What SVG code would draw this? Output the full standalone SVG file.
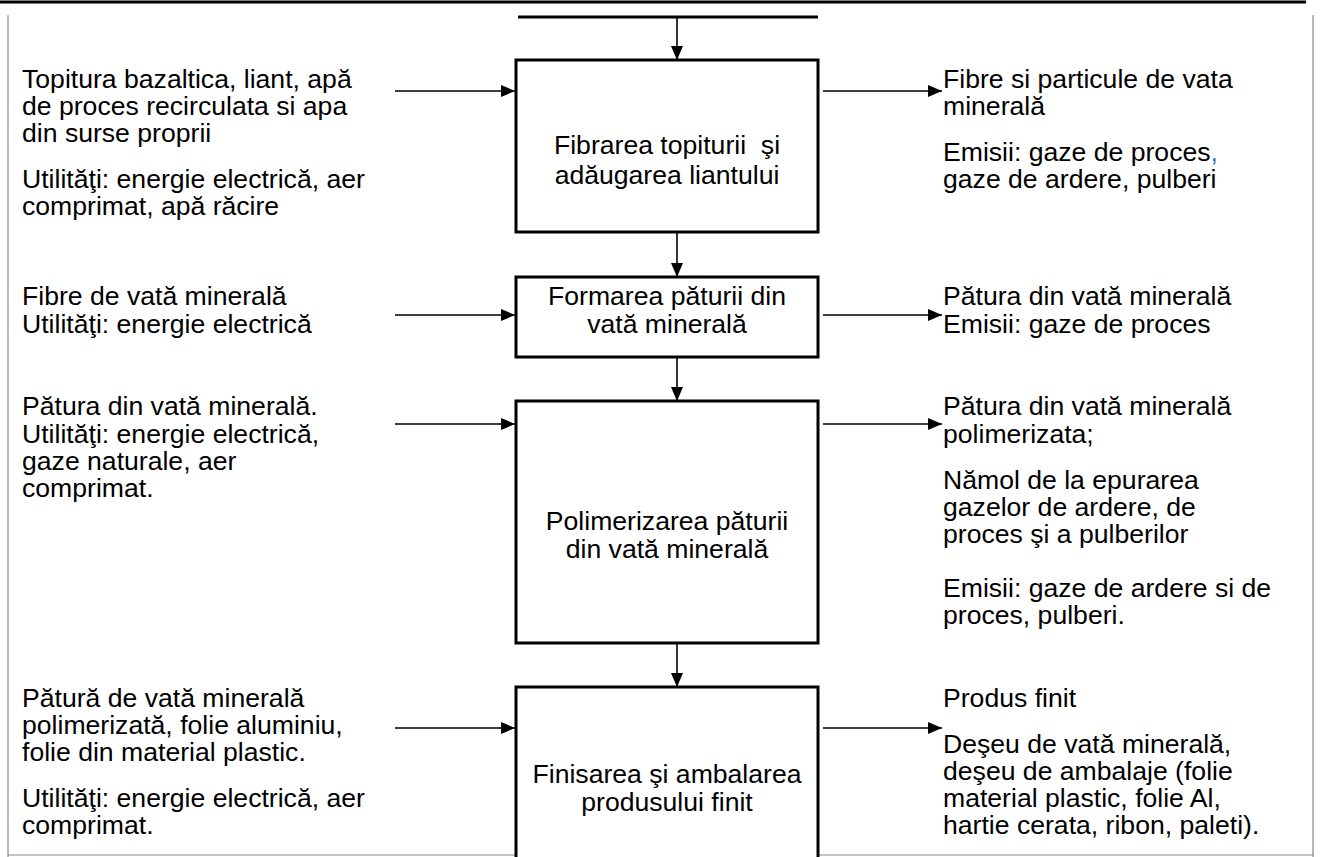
<svg xmlns="http://www.w3.org/2000/svg" width="1320" height="857" viewBox="0 0 1320 857">
<defs>
<marker id="ah" markerWidth="14" markerHeight="12" refX="14" refY="6" orient="auto" markerUnits="userSpaceOnUse">
<path d="M0,0 L14,6 L0,12 Z" fill="#000"/>
</marker>
<style>
text{font-family:"Liberation Sans",Arial,sans-serif;font-size:26.6px;fill:#000}
.c{text-anchor:middle}
.box{fill:#fff;stroke:#000;stroke-width:3}
.conn{stroke:#000;stroke-width:1.6;fill:none}
.frame{stroke:#888;stroke-width:1.2;fill:none}
</style>
</defs>
<rect width="1320" height="857" fill="#fff"/>
<g id="frame">
<line x1="0" y1="2" x2="1306" y2="2" stroke="#000" stroke-width="3"/>
<line class="frame" x1="8" y1="15" x2="8" y2="857"/>
<line class="frame" x1="1313" y1="15" x2="1313" y2="857"/>
<line class="frame" x1="8" y1="855" x2="516" y2="855"/>
<line class="frame" x1="818" y1="855" x2="1313" y2="855"/>
</g>
<g id="connectors">
<line x1="518" y1="17" x2="818" y2="17" stroke="#000" stroke-width="3"/>
<line class="conn" x1="677" y1="17" x2="677" y2="60" marker-end="url(#ah)"/>
<line class="conn" x1="677" y1="232" x2="677" y2="277" marker-end="url(#ah)"/>
<line class="conn" x1="677" y1="357" x2="677" y2="401" marker-end="url(#ah)"/>
<line class="conn" x1="677" y1="643" x2="677" y2="687" marker-end="url(#ah)"/>
<line class="conn" x1="395" y1="91" x2="515" y2="91" marker-end="url(#ah)"/>
<line class="conn" x1="395" y1="315" x2="515" y2="315" marker-end="url(#ah)"/>
<line class="conn" x1="395" y1="424" x2="515" y2="424" marker-end="url(#ah)"/>
<line class="conn" x1="395" y1="728" x2="515" y2="728" marker-end="url(#ah)"/>
<line class="conn" x1="823" y1="91" x2="942" y2="91" marker-end="url(#ah)"/>
<line class="conn" x1="823" y1="315" x2="942" y2="315" marker-end="url(#ah)"/>
<line class="conn" x1="823" y1="424" x2="942" y2="424" marker-end="url(#ah)"/>
<line class="conn" x1="823" y1="728" x2="942" y2="728" marker-end="url(#ah)"/>
</g>
<g id="node1">
<rect class="box" x="516" y="60" width="302" height="172"/>
<text class="c" x="667" y="154" xml:space="preserve">Fibrarea topiturii  şi</text>
<text class="c" x="667" y="184">adăugarea liantului</text>
</g>
<g id="node2">
<rect class="box" x="516" y="277" width="302" height="80"/>
<text class="c" x="667" y="305">Formarea păturii din</text>
<text class="c" x="667" y="333">vată minerală</text>
</g>
<g id="node3">
<rect class="box" x="516" y="401" width="302" height="242"/>
<text class="c" x="667" y="530">Polimerizarea păturii</text>
<text class="c" x="667" y="558">din vată minerală</text>
</g>
<g id="node4">
<path class="box" d="M516,860 V687 H818 V860"/>
<text class="c" x="667" y="783">Finisarea şi ambalarea</text>
<text class="c" x="667" y="811">produsului finit</text>
</g>
<g id="in1">
<text x="22" y="88">Topitura bazaltica, liant, apă</text>
<text x="22" y="115">de proces recirculata si apa</text>
<text x="22" y="142">din surse proprii</text>
<text x="22" y="188">Utilităţi: energie electrică, aer</text>
<text x="22" y="215">comprimat, apă răcire</text>
</g>
<g id="out1">
<text x="943" y="88">Fibre si particule de vata</text>
<text x="943" y="115">minerală</text>
<text x="943" y="161">Emisii: gaze de proces<tspan fill="#2e74b5">,</tspan></text>
<text x="943" y="188">gaze de ardere, pulberi</text>
</g>
<g id="in2">
<text x="22" y="305">Fibre de vată minerală</text>
<text x="22" y="333">Utilităţi: energie electrică</text>
</g>
<g id="out2">
<text x="943" y="305">Pătura din vată minerală</text>
<text x="943" y="333">Emisii: gaze de proces</text>
</g>
<g id="in3">
<text x="22" y="415">Pătura din vată minerală.</text>
<text x="22" y="443">Utilităţi: energie electrică,</text>
<text x="22" y="470">gaze naturale, aer</text>
<text x="22" y="497">comprimat.</text>
</g>
<g id="out3">
<text x="943" y="415">Pătura din vată minerală</text>
<text x="943" y="443">polimerizata;</text>
<text x="943" y="489">Nămol de la epurarea</text>
<text x="943" y="516">gazelor de ardere, de</text>
<text x="943" y="543">proces şi a pulberilor</text>
<text x="943" y="597">Emisii: gaze de ardere si de</text>
<text x="943" y="624">proces, pulberi.</text>
</g>
<g id="in4">
<text x="22" y="707">Pătură de vată minerală</text>
<text x="22" y="734">polimerizată, folie aluminiu,</text>
<text x="22" y="761">folie din material plastic.</text>
<text x="22" y="807">Utilităţi: energie electrică, aer</text>
<text x="22" y="834">comprimat.</text>
</g>
<g id="out4">
<text x="943" y="707">Produs finit</text>
<text x="943" y="753">Deşeu de vată minerală,</text>
<text x="943" y="780">deşeu de ambalaje (folie</text>
<text x="943" y="807">material plastic, folie Al,</text>
<text x="943" y="834">hartie cerata, ribon, paleti).</text>
</g>
</svg>
